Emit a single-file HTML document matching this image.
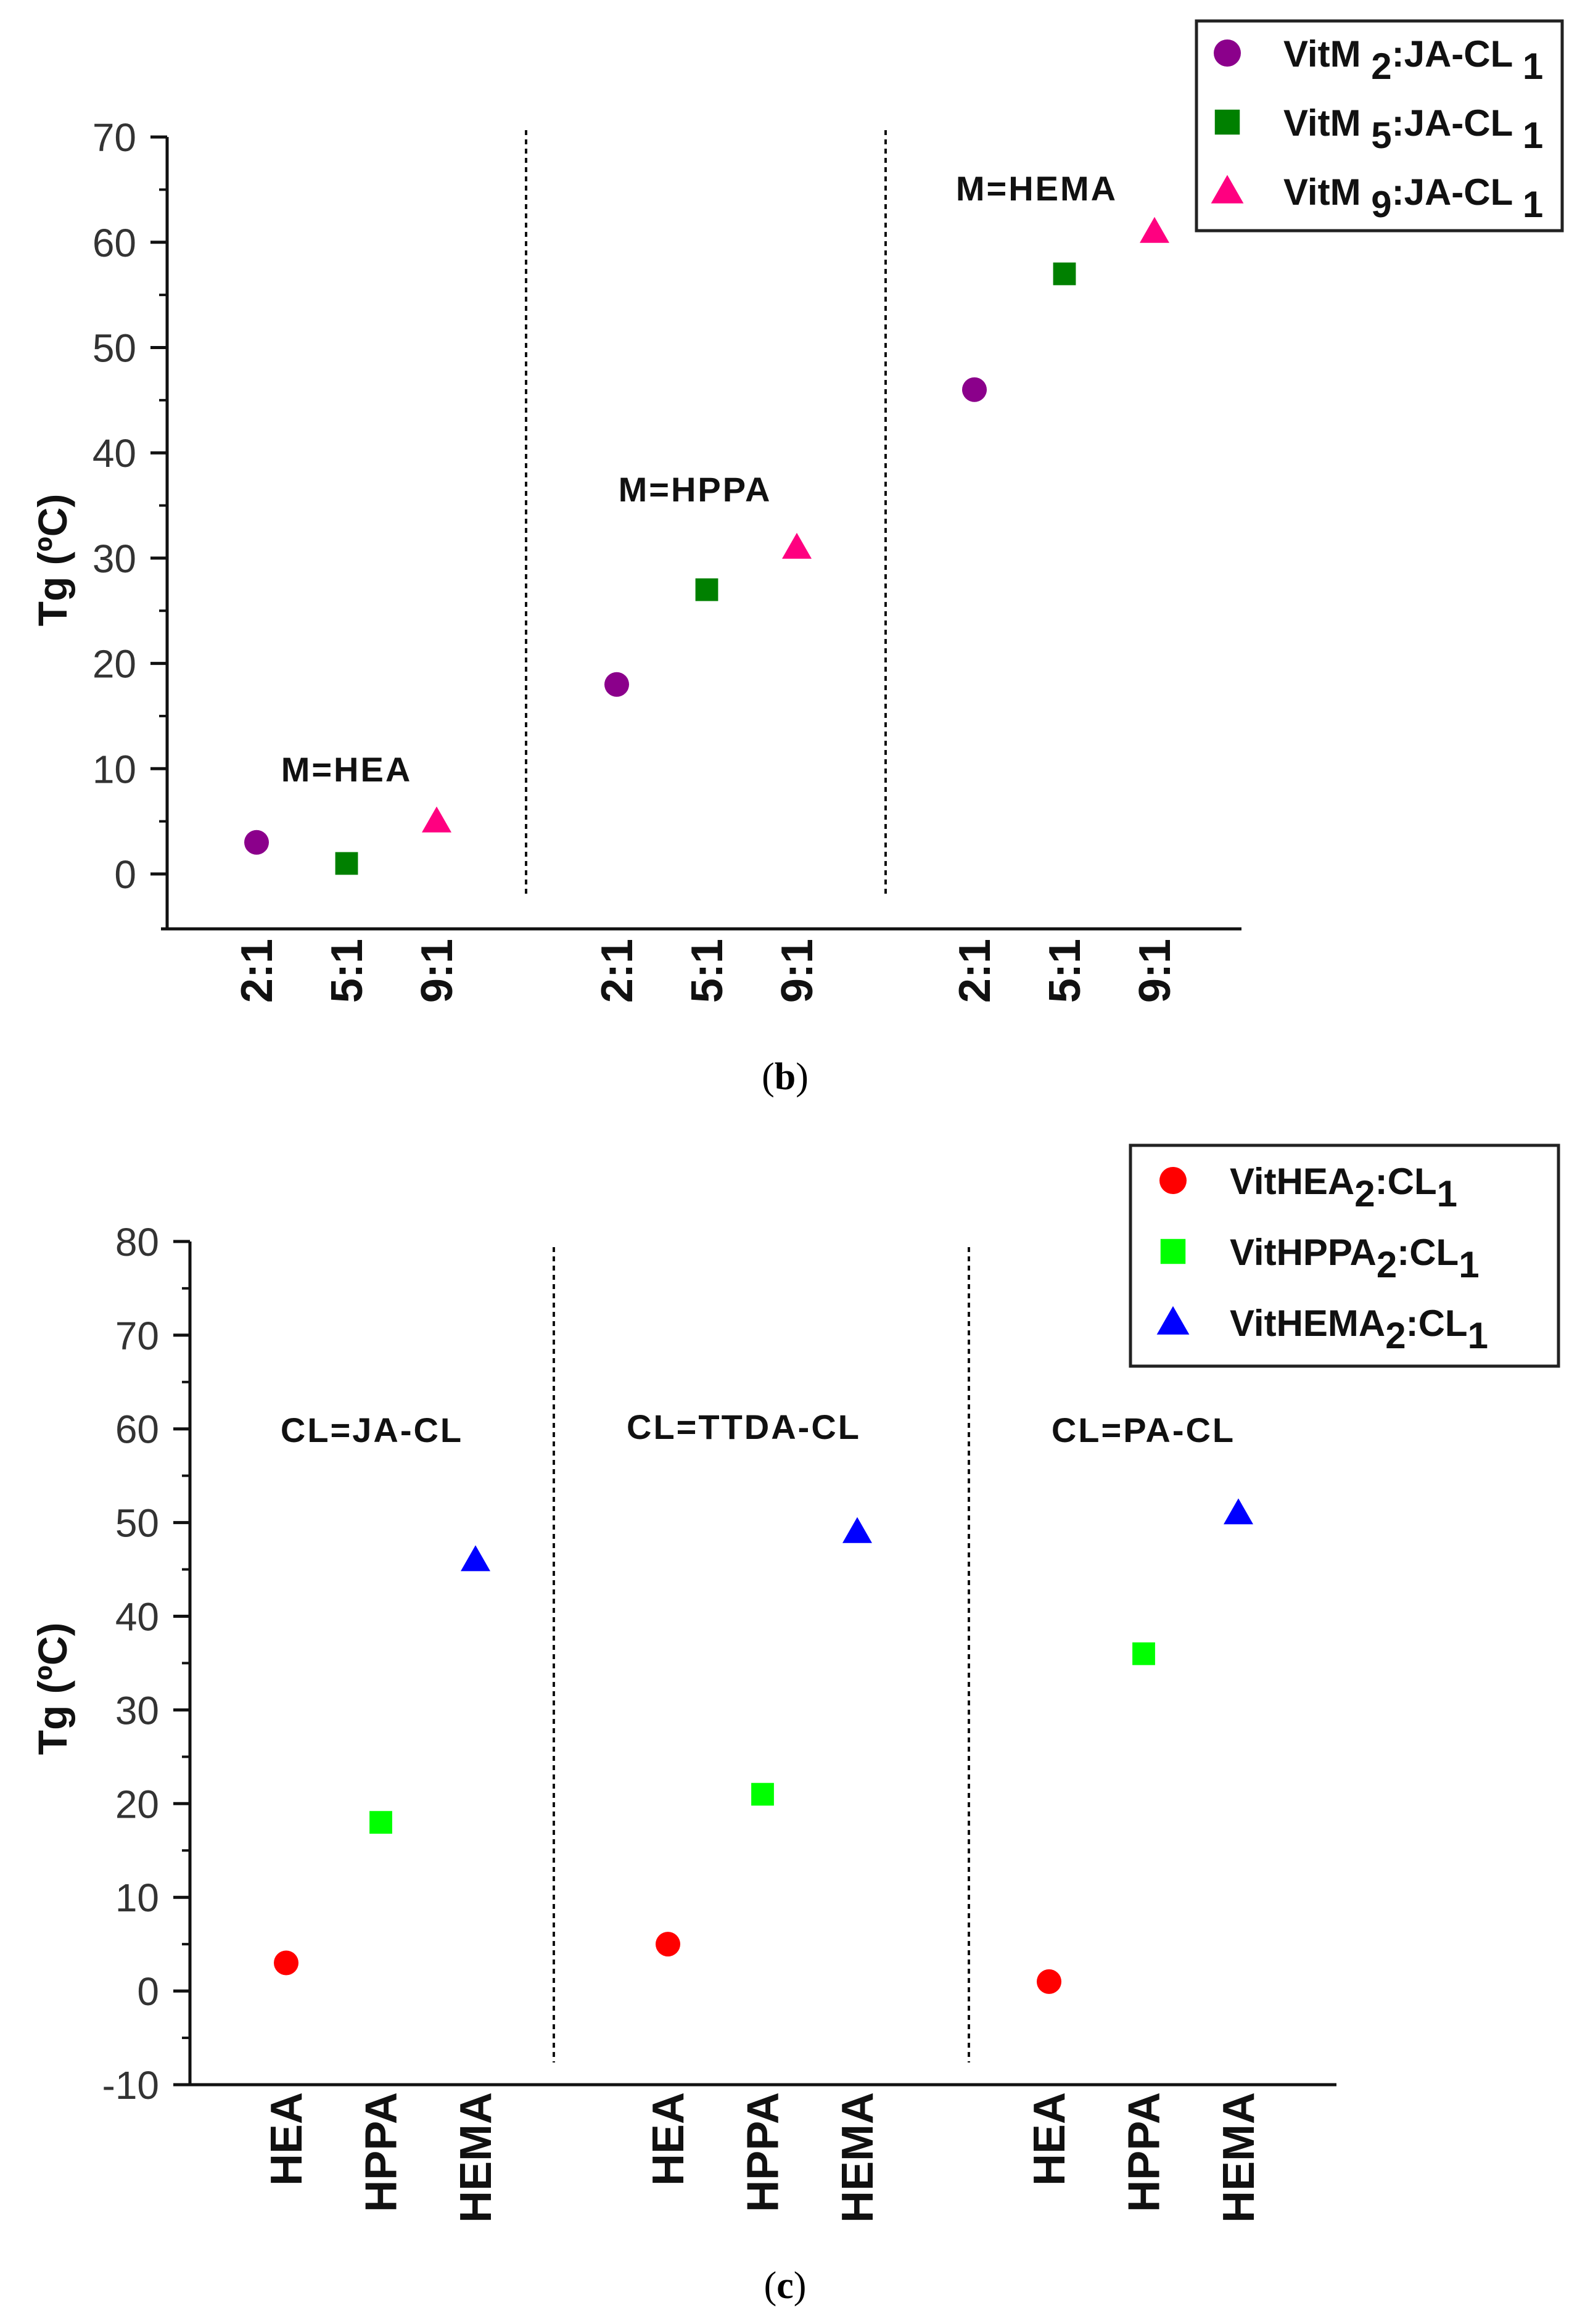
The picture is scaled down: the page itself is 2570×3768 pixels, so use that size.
<!DOCTYPE html>
<html><head><meta charset="utf-8"><style>
html,body{margin:0;padding:0;background:#fff;}
svg{display:block;}
.tick{font-family:"Liberation Sans Narrow","Liberation Sans",sans-serif;font-size:64px;fill:#333;}
.bold{font-family:"Liberation Sans",sans-serif;font-weight:bold;fill:#111;}
</style></head><body>
<svg id="fig" width="2570" height="3768" viewBox="0 0 2570 3768" xmlns="http://www.w3.org/2000/svg"></svg>
<script>
// Chart (b)
const bCategories = ["2:1","5:1","9:1","2:1","5:1","9:1","2:1","5:1","9:1"];
const bGroups = ["M=HEA","M=HPPA","M=HEMA"];
const bM2 = [3, 18, 46];
const bM5 = [1, 27, 57];
const bM9 = [5, 31, 61];
const bTicks = [0,10,20,30,40,50,60,70];
const bLegend = ["2","5","9"];
// Chart (c)
const cCategories = ["HEA","HPPA","HEMA","HEA","HPPA","HEMA","HEA","HPPA","HEMA"];
const cGroups = ["CL=JA-CL","CL=TTDA-CL","CL=PA-CL"];
const cHEA = [3, 5, 1];
const cHPPA = [18, 21, 36];
const cHEMA = [46, 49, 51];
const cTicks = [-10,0,10,20,30,40,50,60,70,80];
const cLegend = ["VitHEA","VitHPPA","VitHEMA"];

const NS="http://www.w3.org/2000/svg";
const svg=document.getElementById('fig');
function el(tag,attrs,parent,text){const e=document.createElementNS(NS,tag);for(const k in attrs)e.setAttribute(k,attrs[k]);if(text!==undefined)e.textContent=text;(parent||svg).appendChild(e);return e;}

function marker(g,shape,x,y,color,s){
  let m;
  if(shape==='circle') m=el('circle',{cx:x,cy:y,r:s*0.5,fill:color},g);
  else if(shape==='square') m=el('rect',{x:x-s*0.46,y:y-s*0.46,width:s*0.92,height:s*0.92,fill:color},g);
  else m=el('polygon',{points:`${x},${y-s*0.6} ${x+s*0.6},${y+s*0.45} ${x-s*0.6},${y+s*0.45}`,fill:color},g);
  return m;
}

function drawChart(cfg){
  const g=el('g',{});
  
  
  const y=v=>cfg.y0-(v-cfg.v0)*cfg.pp;
  const x=i=>cfg.xs[Math.floor(i/3)]+(i%3)*cfg.dx;
  const ya=el('line',{x1:cfg.ax,y1:y(cfg.vmax),x2:cfg.ax,y2:cfg.axisY,stroke:'#111','stroke-width':5},g);
  
  const xa=el('line',{x1:cfg.ax-10,y1:cfg.axisY,x2:cfg.xEnd,y2:cfg.axisY,stroke:'#111','stroke-width':5},g);
  
  cfg.ticks.forEach((t,i)=>{
    el('line',{x1:cfg.ax-27,y1:y(t),x2:cfg.ax,y2:y(t),stroke:'#111','stroke-width':5},g);
    const tl=el('text',{x:cfg.ax-50,y:y(t)+23,'text-anchor':'end',class:'tick'},g,String(t));
    
    if(i<cfg.ticks.length-1) el('line',{x1:cfg.ax-13,y1:y(t+5),x2:cfg.ax,y2:y(t+5),stroke:'#111','stroke-width':4},g);
  });
  const yt=el('text',{x:0,y:0,transform:`translate(${cfg.titleX},${cfg.titleY}) rotate(-90)`,'text-anchor':'middle',class:'bold','font-size':66},g,'Tg (ºC)');
  
  cfg.seps.forEach(sx=>{
    const s=el('line',{x1:sx,y1:cfg.sepTop,x2:sx,y2:cfg.sepBot,stroke:'#111','stroke-width':4,'stroke-dasharray':'8,7'},g);
    
  });
  cfg.cats.forEach((c,i)=>{
    const t=el('text',{x:0,y:0,transform:`translate(${x(i)+cfg.labOff},${cfg.labY}) rotate(-90)`,'text-anchor':'end',class:'bold','font-size':72},g,c);
    
  });
  cfg.groups.forEach((gl,i)=>{
    const t=el('text',{x:cfg.gpos[i][0],y:cfg.gpos[i][1],'text-anchor':'middle',class:'bold','font-size':56,'letter-spacing':3},g,gl);
    
  });
  cfg.series.forEach((s,si)=>{
    s.vals.forEach((v,gi)=>{
      const m=marker(g,s.shape,x(gi*3+si),y(v),s.color,40);
      
      
    });
  });
  const L=cfg.legend;
  const lb=el('rect',{x:L.x,y:L.y,width:L.w,height:L.h,fill:'#fff',stroke:'#222','stroke-width':5},g);
  
  cfg.series.forEach((s,si)=>{
    const cy=L.y+L.first+si*L.step;
    const m=marker(g,s.shape,L.mx,cy,s.color,44);
    
    const t=el('text',{x:L.tx,y:cy+22,class:'bold','font-size':60},g);
    
    s.label(t);
  });
}

drawChart({
  name:'chart-b', ax:271, v0:0, y0:1417, pp:17.07, vmax:70, axisY:1506, xEnd:2013,
  ticks:bTicks, titleX:108, titleY:908,
  xs:[416,1000,1580], dx:146, seps:[853,1436], sepTop:211, sepBot:1453,
  cats:bCategories, labOff:25, labY:1522, groups:bGroups,
  gpos:[[562,1267],[1127,813],[1681,325]],
  series:[{key:'m2',shape:'circle',color:'#8b008b',vals:bM2},
          {key:'m5',shape:'square',color:'#008000',vals:bM5},
          {key:'m9',shape:'tri',color:'#ff0080',vals:bM9}].map((s,i)=>Object.assign(s,{label:t=>{
            el('tspan',{},t,'VitM ');el('tspan',{dy:20,'font-size':60},t,bLegend[i]);
            el('tspan',{dy:-20},t,':JA-CL ');el('tspan',{dy:20},t,'1');}})),
  legend:{x:1940,y:34,w:593,h:340,mx:1990,tx:2081,first:52,step:112}
});

drawChart({
  name:'chart-c', ax:308, v0:-10, y0:3380, pp:15.19, vmax:80, axisY:3380, xEnd:2167,
  ticks:cTicks, titleX:108, titleY:2738,
  xs:[464,1083,1701], dx:153.5, seps:[898,1571], sepTop:2022, sepBot:3344,
  cats:cCategories, labOff:25, labY:3392, groups:cGroups,
  gpos:[[603,2338],[1206,2333],[1854,2338]],
  series:[{key:'hea',shape:'circle',color:'#ff0000',vals:cHEA},
          {key:'hppa',shape:'square',color:'#00ff00',vals:cHPPA},
          {key:'hema',shape:'tri',color:'#0000ff',vals:cHEMA}].map((s,i)=>Object.assign(s,{label:t=>{
            el('tspan',{},t,cLegend[i]);el('tspan',{dy:20},t,'2');
            el('tspan',{dy:-20},t,':CL');el('tspan',{dy:20},t,'1');}})),
  legend:{x:1833,y:1857,w:694,h:358,mx:1902,tx:1994,first:57,step:115}
});

const b=el('text',{x:1273,y:1766,'text-anchor':'middle','font-family':'Liberation Serif, serif','font-size':62},svg);

el('tspan',{},b,'(');el('tspan',{'font-weight':'bold'},b,'b');el('tspan',{},b,')');
const c=el('text',{x:1273,y:3726,'text-anchor':'middle','font-family':'Liberation Serif, serif','font-size':62},svg);

el('tspan',{},c,'(');el('tspan',{'font-weight':'bold'},c,'c');el('tspan',{},c,')');
</script>
</body></html>
